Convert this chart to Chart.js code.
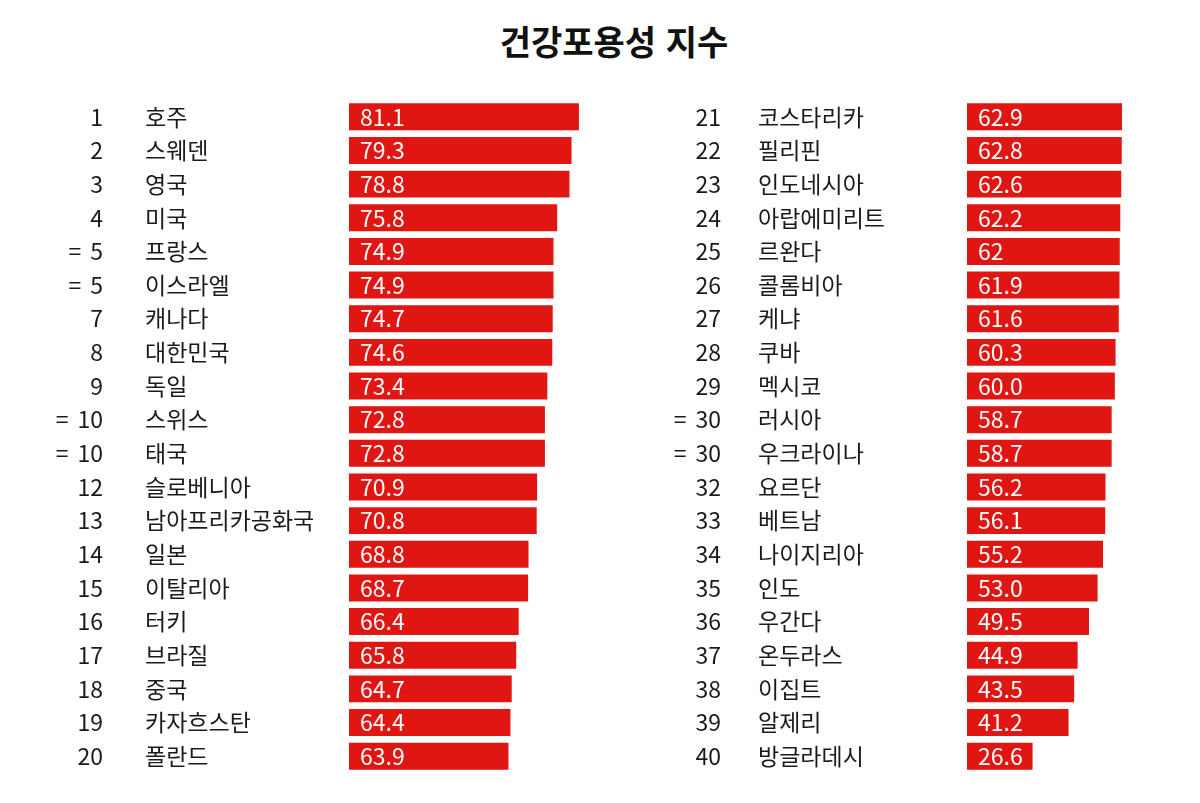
<!DOCTYPE html>
<html lang="ko">
<head>
<meta charset="utf-8">
<title>건강포용성 지수</title>
<script src="https://cdn.jsdelivr.net/npm/chart.js@4.4.1/dist/chart.umd.min.js"></script>
<style>
  html, body { margin: 0; padding: 0; background: #fff; }
  #wrap { position: relative; width: 1200px; height: 803px; }
  h1 { position: absolute; top: 0; left: 14px; width: 1200px; margin: 0; text-align: center;
       font: bold 34px "Noto Sans CJK KR"; line-height: 82px; color: #111; }
  canvas { position: absolute; top: 0; }
</style>
</head>
<body>
<div id="wrap">
  <h1>건강포용성 지수</h1>
  <canvas id="left" width="600" height="803" style="left:0"></canvas>
  <canvas id="right" width="600" height="803" style="left:600px"></canvas>
</div>
<script>
'use strict'

// ranks 1-20
const countriesA = ['호주', '스웨덴', '영국', '미국', '프랑스', '이스라엘', '캐나다', '대한민국', '독일', '스위스',
  '태국', '슬로베니아', '남아프리카공화국', '일본', '이탈리아', '터키', '브라질', '중국', '카자흐스탄', '폴란드'];
const ranksA = [1, 2, 3, 4, 5, 5, 7, 8, 9, 10, 10, 12, 13, 14, 15, 16, 17, 18, 19, 20];
const scoresA = ['81.1', '79.3', '78.8', '75.8', '74.9', '74.9', '74.7', '74.6', '73.4', '72.8',
  '72.8', '70.9', '70.8', '68.8', '68.7', '66.4', '65.8', '64.7', '64.4', '63.9'];

// ranks 21-40
const countriesB = ['코스타리카', '필리핀', '인도네시아', '아랍에미리트', '르완다', '콜롬비아', '케냐', '쿠바', '멕시코', '러시아',
  '우크라이나', '요르단', '베트남', '나이지리아', '인도', '우간다', '온두라스', '이집트', '알제리', '방글라데시'];
const ranksB = [21, 22, 23, 24, 25, 26, 27, 28, 29, 30, 30, 32, 33, 34, 35, 36, 37, 38, 39, 40];
const scoresB = ['62.9', '62.8', '62.6', '62.2', '62', '61.9', '61.6', '60.3', '60.0', '58.7',
  '58.7', '56.2', '56.1', '55.2', '53.0', '49.5', '44.9', '43.5', '41.2', '26.6'];

const RED = '#e01612';
const INK = '#1a1a1a';
const FONT = '23px "Noto Sans CJK KR", "Noto Sans", sans-serif';

// rank, country name and the value inside each bar
const rowText = {
  id: 'rowText',
  afterDatasetsDraw(chart, args, opts) {
    const ctx = chart.ctx;
    const y = chart.scales.y;
    const left = chart.chartArea.left;
    ctx.save();
    ctx.font = FONT;
    ctx.textBaseline = 'middle';
    opts.names.forEach((name, i) => {
      const cy = y.getPixelForValue(i);
      const r = opts.ranks[i];
      const tied = opts.ranks[i - 1] === r || opts.ranks[i + 1] === r;
      ctx.fillStyle = INK;
      ctx.textAlign = 'right';
      ctx.fillText(String(r), opts.rankX, cy);
      if (tied) {
        const w = ctx.measureText(String(r)).width;
        ctx.fillText('=', opts.rankX - w - 9, cy);
      }
      ctx.textAlign = 'left';
      ctx.fillText(name, opts.nameX, cy);
      ctx.fillStyle = '#fff';
      ctx.fillText(opts.values[i], left + 11, cy);
    });
    ctx.restore();
  }
};

function makePanel(id, names, ranks, scores, xMin, xMax, padLeft, rankX, nameX) {
  return new Chart(document.getElementById(id), {
    type: 'bar',
    data: {
      labels: names,
      datasets: [{
        data: scores.map(Number),
        backgroundColor: RED,
        borderWidth: 0,
        barPercentage: 0.8,
        categoryPercentage: 1
      }]
    },
    options: {
      indexAxis: 'y',
      responsive: false,
      animation: false,
      layout: { padding: { left: padLeft, right: 10, top: 100, bottom: 30 } },
      scales: {
        x: { display: false, min: xMin, max: xMax },
        y: { display: false }
      },
      plugins: {
        legend: { display: false },
        tooltip: { enabled: false },
        rowText: { names: names, ranks: ranks, values: scores, rankX: rankX, nameX: nameX }
      }
    },
    plugins: [rowText]
  });
}

makePanel('left', countriesA, ranksA, scoresA, 25, 83.8, 349, 103, 145);
makePanel('right', countriesB, ranksB, scoresB, 0, 90.5, 367, 121, 158);
</script>
</body>
</html>
